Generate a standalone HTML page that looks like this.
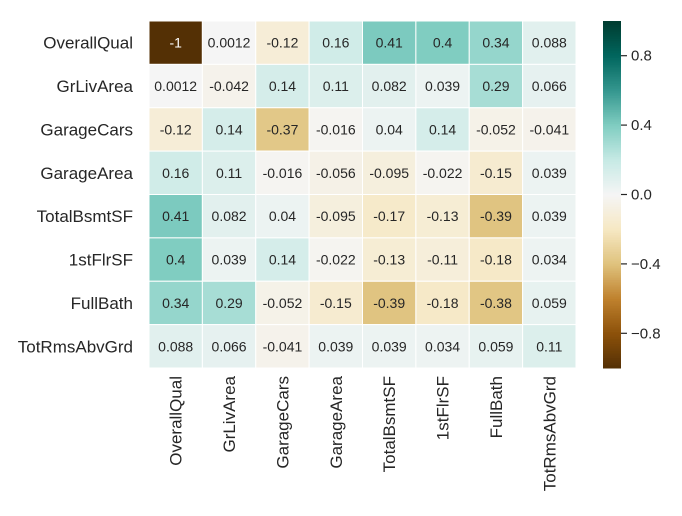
<!DOCTYPE html>
<html><head><meta charset="utf-8"><style>
html,body{margin:0;padding:0;background:#fff;}
svg{display:block;font-family:"Liberation Sans",Arial,sans-serif;}
</style></head><body>
<svg id="chart" width="682" height="516" viewBox="0 0 682 516" xmlns="http://www.w3.org/2000/svg"></svg>
<script>
const labels = ["OverallQual","GrLivArea","GarageCars","GarageArea","TotalBsmtSF","1stFlrSF","FullBath","TotRmsAbvGrd"];
const row0 = [-1, 0.0012, -0.12, 0.16, 0.41, 0.4, 0.34, 0.088];
const row1 = [0.0012, -0.042, 0.14, 0.11, 0.082, 0.039, 0.29, 0.066];
const row2 = [-0.12, 0.14, -0.37, -0.016, 0.04, 0.14, -0.052, -0.041];
const row3 = [0.16, 0.11, -0.016, -0.056, -0.095, -0.022, -0.15, 0.039];
const row4 = [0.41, 0.082, 0.04, -0.095, -0.17, -0.13, -0.39, 0.039];
const row5 = [0.4, 0.039, 0.14, -0.022, -0.13, -0.11, -0.18, 0.034];
const row6 = [0.34, 0.29, -0.052, -0.15, -0.39, -0.18, -0.38, 0.059];
const row7 = [0.088, 0.066, -0.041, 0.039, 0.039, 0.034, 0.059, 0.11];
const matrix = [row0,row1,row2,row3,row4,row5,row6,row7];
const cbTicks = [0.8, 0.4, 0.0, -0.4, -0.8];
const cbTickLabels = ["0.8","0.4","0.0","\u22120.4","\u22120.8"];

const NS = "http://www.w3.org/2000/svg";
const svg = document.getElementById("chart");
const X0 = 149, X1 = 576, Y0 = 21, Y1 = 368;
const n = labels.length;
const cw = (X1 - X0) / n, ch = (Y1 - Y0) / n;
const vmin = -1, vmax = 1;
const anchors = ["#543005","#8c510a","#bf812d","#dfc27d","#f6e8c3","#f5f5f5","#c7eae5","#80cdc1","#35978f","#01665e","#003c30"];
function hex(h){return [1,3,5].map(i=>parseInt(h.substr(i,2),16));}
const A = anchors.map(hex);
function cmapRGB(v){
  let t = (v - vmin) / (vmax - vmin); t = Math.max(0, Math.min(1, t));
  const p = t * (A.length - 1); const i = Math.min(A.length - 2, Math.floor(p)); const f = p - i;
  return A[i].map((c,k)=>Math.round(c + (A[i+1][k]-c)*f));
}
function cmap(v){const c=cmapRGB(v);return `rgb(${c[0]},${c[1]},${c[2]})`;}
function lum(c){const l=c.map(x=>{x/=255;return x<=0.03928?x/12.92:Math.pow((x+0.055)/1.055,2.4);});return 0.2126*l[0]+0.7152*l[1]+0.0722*l[2];}
function xPos(j){return X0 + j*cw;}
function yPos(i){return Y0 + i*ch;}
function cbY(v){return Y1 - (v - vmin)/(vmax - vmin)*(Y1 - Y0);}
function mk(tag, attrs){const e=document.createElementNS(NS,tag);for(const k in attrs)e.setAttribute(k,attrs[k]);svg.appendChild(e);return e;}

for (let i=0;i<n;i++){
  for (let j=0;j<n;j++){
    const v = matrix[i][j];
    const r = mk("rect",{x:xPos(j),y:yPos(i),width:cw,height:ch,fill:cmap(v),stroke:"#fff","stroke-width":1});
    
    
    const t = mk("text",{x:xPos(j)+cw/2,y:yPos(i)+ch/2+5,"text-anchor":"middle","font-size":14,fill:lum(cmapRGB(v))<0.408?"#fff":"#262626"});
    t.textContent = String(v);
    
    
  }
}
for (let i=0;i<n;i++){
  const t = mk("text",{x:X0-16,y:yPos(i)+ch/2+6,"text-anchor":"end","font-size":17,fill:"#262626"});
  t.textContent = labels[i];
  
  
  const cx = xPos(i)+cw/2+6, cy = Y1+8;
  const tx = mk("text",{x:cx,y:cy,"text-anchor":"end","font-size":17,fill:"#262626",transform:`rotate(-90 ${cx} ${cy})`});
  tx.textContent = labels[i];
  
  
}
// colorbar
const CB0 = 603, CBW = 18, steps = 200;
for (let s=0;s<steps;s++){
  const v0 = vmin + (vmax-vmin)*s/steps, v1 = vmin + (vmax-vmin)*(s+1)/steps;
  const r = mk("rect",{x:CB0,y:cbY(v1),width:CBW,height:cbY(v0)-cbY(v1)+0.5,fill:cmap((v0+v1)/2)});
  
  
}
cbTicks.forEach((v,k)=>{
  const y = cbY(v);
  const l = mk("line",{x1:CB0+CBW,x2:CB0+CBW+6,y1:y,y2:y,stroke:"#262626","stroke-width":1.2});
  
  
  const t = mk("text",{x:CB0+CBW+10,y:y+5,"font-size":15,fill:"#262626"});
  t.textContent = cbTickLabels[k];
  
  
});
</script>
</body></html>
